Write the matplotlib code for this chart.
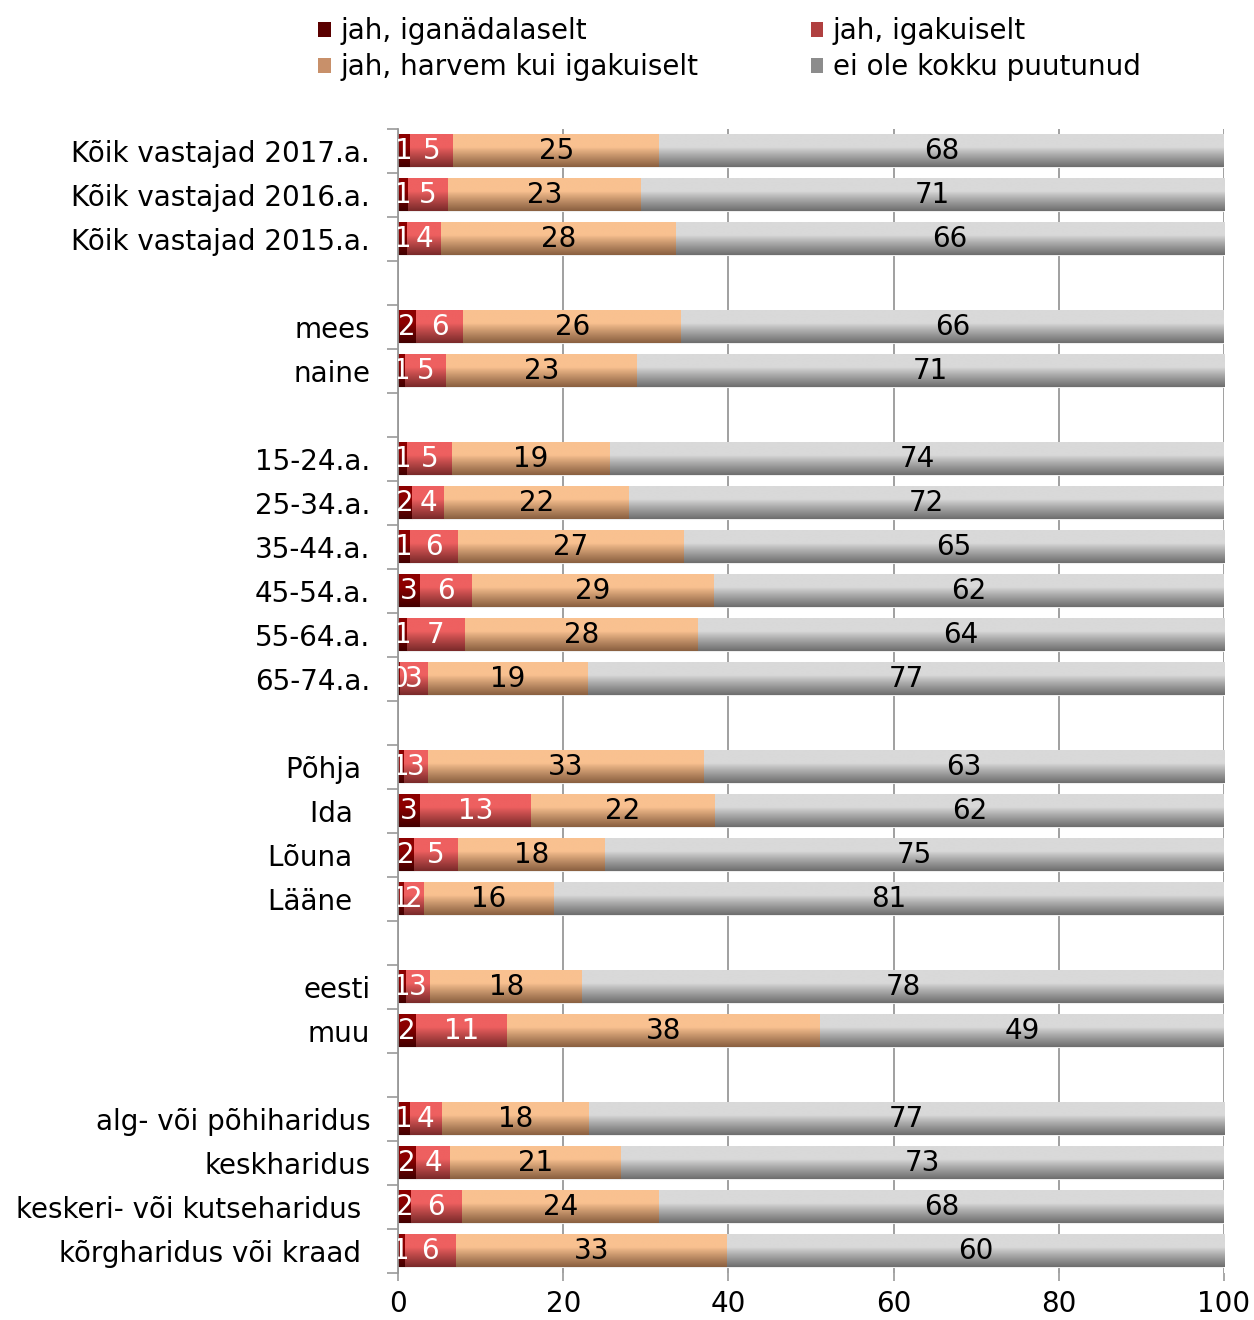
import numpy as np
import matplotlib
matplotlib.use("Agg")
import matplotlib.pyplot as plt
from matplotlib.patches import Patch
from matplotlib.colors import to_rgb

# data
categories = ["Kõik vastajad 2017.a.", "Kõik vastajad 2016.a.", "Kõik vastajad 2015.a.",
              "mees", "naine",
              "15-24.a.", "25-34.a.", "35-44.a.", "45-54.a.", "55-64.a.", "65-74.a.",
              "Põhja ", "Ida  ", "Lõuna  ", "Lääne  ",
              "eesti", "muu",
              "alg- või põhiharidus", "keskharidus", "keskeri- või kutseharidus ",
              "kõrgharidus või kraad "]
group_sizes = [3, 2, 6, 4, 2, 4]

weekly = [1.4, 1.2, 1.1, 2.2, 0.85, 1.1, 1.7, 1.4, 2.7, 1.1, 0.3,
          0.7, 2.7, 1.9, 0.7, 1.0, 2.2, 1.4, 2.2, 1.6, 0.8]
monthly = [5.3, 4.85, 4.1, 5.7, 4.95, 5.4, 3.9, 5.9, 6.2, 7.0, 3.3,
           2.9, 13.4, 5.4, 2.4, 2.9, 11.0, 3.9, 4.1, 6.1, 6.2]
rarely = [24.9, 23.35, 28.4, 26.4, 23.1, 19.2, 22.4, 27.3, 29.4, 28.2, 19.4,
          33.4, 22.3, 17.8, 15.8, 18.4, 37.9, 17.8, 20.7, 23.9, 32.8]
never = [68.4, 70.6, 66.4, 65.7, 71.1, 74.3, 72.0, 65.4, 61.7, 63.7, 77.0,
         63.0, 61.6, 74.9, 81.1, 77.7, 48.9, 76.9, 73.0, 68.4, 60.2]

series_names = ["jah, iganädalaselt", "jah, igakuiselt",
                "jah, harvem kui igakuiselt", "ei ole kokku puutunud"]
series = [weekly, monthly, rarely, never]

# colours: top of bar, bottom of bar, legend swatch, label colour
tops = ["#8c0000", "#ee6060", "#f9c190", "#d9d9d9"]
bottoms = ["#420000", "#7a2a2a", "#8a6040", "#6e6e6e"]
swatch = ["#5a0000", "#b04040", "#c8906a", "#8c8c8c"]
txt_col = ["white", "white", "black", "black"]

FS = 20
plt.rcParams['font.family'] = ['DejaVu Sans']

# positions with an empty slot between groups
pos = []
p = 0
for g in group_sizes:
    for i in range(g):
        pos.append(p)
        p += 1
    p += 1
pos = np.array(pos)
last = pos[-1]

fig = plt.figure(figsize=(12.54, 13.2), dpi=100)
ax = fig.add_axes([398/1254, 1 - 1273/1320, 826/1254, 1144/1320])

def gradient(top, bot):
    t = np.linspace(0, 1, 60)
    f = np.clip((t - 0.4) / 0.6, 0, 1) ** 0.9
    a = np.array(to_rgb(top))
    b = np.array(to_rgb(bot))
    g = a[None, :] * (1 - f[:, None]) + b[None, :] * f[:, None]
    return g[:, None, :]

bar_h = 0.74
left = np.zeros(len(categories))
for k, vals in enumerate(series):
    vals = np.array(vals)
    bars = ax.barh(pos, vals, left=left, height=bar_h, color=tops[k],
                   edgecolor="#eeeeee", linewidth=0.8, zorder=2)
    img = gradient(tops[k], bottoms[k])
    for b in bars:
        x0, y0 = b.get_x(), b.get_y()
        w, h = b.get_width(), b.get_height()
        ax.imshow(img, extent=(x0, x0 + w, y0 + h, y0), origin='upper',
                  aspect='auto', zorder=2.5, interpolation='bilinear')
    ax.bar_label(bars, labels=[f"{round(v):d}" for v in vals], label_type='center',
                 color=txt_col[k], fontsize=FS, zorder=4, clip_on=True)
    left = left + vals

ax.set_xlim(0, 100)
ax.set_ylim(last + 0.5, -0.5)
ax.set_aspect('auto')

ax.set_xticks([0, 20, 40, 60, 80, 100])
ax.tick_params(axis='x', length=6, width=1.2, color="#999999", labelsize=FS, pad=6)
ax.set_yticks(pos)
ax.set_yticklabels(categories)
ax.tick_params(axis='y', which='major', length=0, labelsize=FS, pad=20)
ax.set_yticks(np.arange(-0.5, last + 1, 1), minor=True)
ax.tick_params(axis='y', which='minor', length=8, width=1.2, color="#999999")

ax.grid(axis='x', color="#999999", linewidth=1.3)
ax.set_axisbelow(True)
for s in ['top', 'right', 'bottom']:
    ax.spines[s].set_visible(False)
ax.spines['left'].set_color("#999999")
ax.spines['left'].set_linewidth(1.3)

# legend is filled column by column, so reorder to read row by row
order = [0, 2, 1, 3]
handles = [Patch(facecolor=swatch[k], edgecolor='none') for k in order]
fig.legend(handles, [series_names[k] for k in order], loc='upper left',
           bbox_to_anchor=(318/1254, 1 - 17/1320),
           ncol=2, frameon=False, fontsize=FS, handlelength=0.45, handleheight=0.45,
           handletextpad=0.35, columnspacing=4.05, labelspacing=0.3,
           borderpad=0, borderaxespad=0)

fig.savefig("out.png", dpi=100)
